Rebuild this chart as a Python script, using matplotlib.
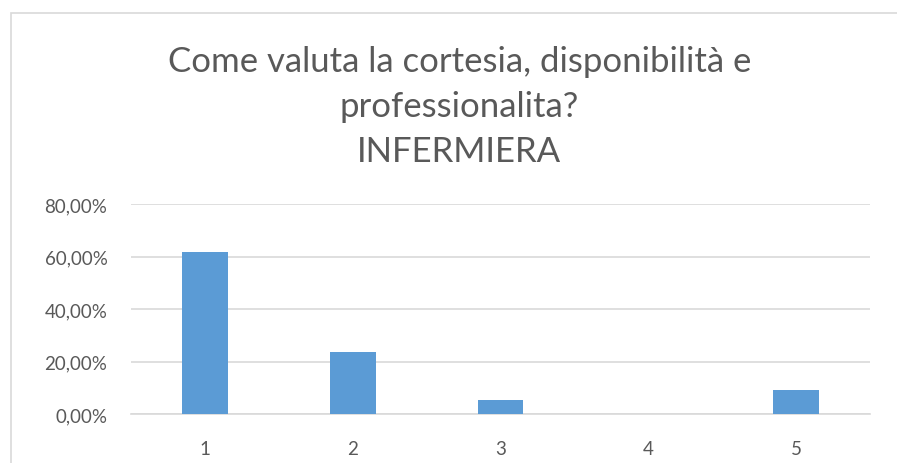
import matplotlib
matplotlib.use("Agg")
import matplotlib.pyplot as plt
from matplotlib.patches import Rectangle
from matplotlib.ticker import FuncFormatter

plt.rcParams['font.family'] = ['Lato', 'DejaVu Sans']

categories = ["1", "2", "3", "4", "5"]
values = [0.6182, 0.2364, 0.0545, 0.0, 0.0909]
yticks = [0.0, 0.2, 0.4, 0.6, 0.8]
title = "Come valuta la cortesia, disponibilità e\nprofessionalita?\nINFERMIERA"

text_color = "#595959"
bar_color = "#5B9BD5"
grid_color = "#D9D9D9"

fig = plt.figure(figsize=(8.97, 4.64), dpi=100)
fig.patch.set_facecolor("white")

# chart border (top and left visible)
fig.add_artist(Rectangle((11 / 897, -0.1), 1.2, 1 - 14 / 464 + 0.1,
                         transform=fig.transFigure, fill=False,
                         edgecolor="#D9D9D9", linewidth=1.2))

ax = fig.add_axes([131 / 897, 1 - 415 / 464, (870 - 131) / 897, (415 - 205) / 464])
x = range(len(categories))
ax.bar(x, values, width=0.31, color=bar_color, zorder=3)
ax.set_xlim(-0.5, len(categories) - 0.5)
ax.set_ylim(0, 0.8)
ax.set_yticks(yticks)
ax.yaxis.set_major_formatter(FuncFormatter(lambda v, p: f"{v * 100:.2f}%".replace(".", ",")))
ax.set_xticks(list(x))
ax.set_xticklabels(categories)
ax.grid(axis="y", color=grid_color, linewidth=1.2, zorder=0)
for s in ["top", "right", "left"]:
    ax.spines[s].set_visible(False)
ax.spines["bottom"].set_color(grid_color)
ax.spines["bottom"].set_linewidth(1.2)
ax.tick_params(axis="both", length=0, colors=text_color, labelsize=13.5)
ax.tick_params(axis="y", pad=17)
ax.tick_params(axis="x", pad=19)

fig.text(0.512, 1 - 107 / 464, title, ha="center", va="center", fontsize=25,
         color=text_color, linespacing=1.5)

fig.savefig("out.png", dpi=100, facecolor="white")
